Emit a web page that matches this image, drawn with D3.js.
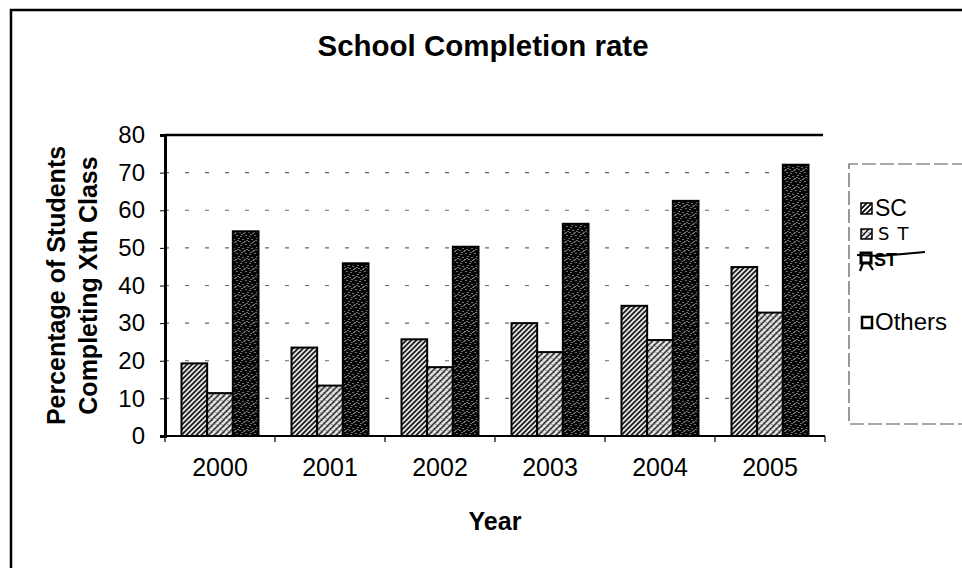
<!DOCTYPE html>
<html>
<head>
<meta charset="utf-8">
<script src="https://cdn.jsdelivr.net/npm/d3@7/dist/d3.min.js"></script>
<style>
  html, body { margin: 0; padding: 0; background: #fff; }
  svg { display: block; font-family: "Liberation Sans", Arial, sans-serif; }
</style>
</head>
<body>
<svg id="chart" width="962" height="568"></svg>
<script>
// School completion rate by year and social group
const years = ["2000", "2001", "2002", "2003", "2004", "2005"];
const seriesNames = ["SC", "ST", "Others"];
const scValues = [19.3, 23.5, 25.7, 30.0, 34.6, 44.9];
const stValues = [11.4, 13.4, 18.3, 22.3, 25.5, 32.8];
const othersValues = [54.4, 45.9, 50.3, 56.4, 62.5, 72.1];
const yTicks = [0, 10, 20, 30, 40, 50, 60, 70, 80];

const seriesValues = { SC: scValues, ST: stValues, Others: othersValues };

const svg = d3.select("#chart");
const plot = { left: 165, right: 825, top: 135, bottom: 436 };

// ---- fill patterns ----
const defs = svg.append("defs");

// SC: dense forward-slash hatching
const pSC = defs.append("pattern").attr("id", "pat-sc")
  .attr("patternUnits", "userSpaceOnUse").attr("width", 5).attr("height", 5);
pSC.append("rect").attr("width", 5).attr("height", 5).attr("fill", "#fff");
pSC.append("path").attr("d", "M-1,1 L1,-1 M0,5 L5,0 M4,6 L6,4")
  .attr("stroke", "#000").attr("stroke-width", 1.7);

// ST: lighter cross-hatch
const pST = defs.append("pattern").attr("id", "pat-st")
  .attr("patternUnits", "userSpaceOnUse").attr("width", 6).attr("height", 6);
pST.append("rect").attr("width", 6).attr("height", 6).attr("fill", "#e6e6e6");
pST.append("path").attr("d", "M-1,1 L1,-1 M0,6 L6,0 M5,7 L7,5")
  .attr("stroke", "#111").attr("stroke-width", 1.3);
pST.append("path").attr("d", "M0,0 L6,6 M-1,5 L1,7 M5,-1 L7,1")
  .attr("stroke", "#333").attr("stroke-width", 0.8).attr("stroke-dasharray", "1.5,1.5");

// Others: dark stipple
const pOT = defs.append("pattern").attr("id", "pat-ot")
  .attr("patternUnits", "userSpaceOnUse").attr("width", 9).attr("height", 9);
pOT.append("rect").attr("width", 9).attr("height", 9).attr("fill", "#050505");
[[1,1],[5,2],[3,4],[7,5],[0,7],[4,7],[8,8],[6,0],[2,6]].forEach(([px, py]) => {
  pOT.append("rect").attr("x", px).attr("y", py).attr("width", 1).attr("height", 1)
    .attr("fill", "#d8d8d8");
});

const fills = { SC: "url(#pat-sc)", ST: "url(#pat-st)", Others: "url(#pat-ot)" };

// ---- outer frame ----
svg.append("path").attr("d", "M11,568 L11,10 L962,10")
  .attr("fill", "none").attr("stroke", "#000").attr("stroke-width", 2.5);

// ---- title ----
svg.append("text").attr("x", 483).attr("y", 56).attr("text-anchor", "middle")
  .attr("font-size", 29.5).attr("font-weight", "bold").text("School Completion rate");

// ---- scales ----
const x0 = d3.scaleBand().domain(years).range([plot.left, plot.right])
  .paddingInner(0.3).paddingOuter(0.15);
const x1 = d3.scaleBand().domain(seriesNames).range([0, x0.bandwidth()]);
const y = d3.scaleLinear().domain([0, 80]).range([plot.bottom, plot.top]);

// ---- gridlines ----
svg.append("g").selectAll("line").data(yTicks.filter(t => t > 0 && t < 80)).join("line")
  .attr("x1", plot.left).attr("x2", plot.right)
  .attr("y1", d => y(d)).attr("y2", d => y(d))
  .attr("stroke", "#666").attr("stroke-width", 1.2).attr("stroke-dasharray", "4,16");

// plot top border
svg.append("line").attr("x1", plot.left).attr("x2", plot.right - 2)
  .attr("y1", plot.top).attr("y2", plot.top)
  .attr("stroke", "#000").attr("stroke-width", 2.5);

// ---- bars ----
const groups = svg.append("g").selectAll("g").data(years).join("g")
  .attr("transform", d => `translate(${x0(d)},0)`);
groups.selectAll("rect")
  .data((yr, i) => seriesNames.map(s => ({ s, v: seriesValues[s][i] })))
  .join("rect")
  .attr("x", d => x1(d.s))
  .attr("y", d => y(d.v))
  .attr("width", x1.bandwidth())
  .attr("height", d => plot.bottom - y(d.v))
  .attr("fill", d => fills[d.s])
  .attr("stroke", "#000").attr("stroke-width", 2);

// ---- y axis ----
const yAxis = svg.append("g").attr("transform", `translate(${plot.left},0)`)
  .call(d3.axisLeft(y).tickValues(yTicks).tickSize(5).tickPadding(15));
yAxis.select(".domain").attr("stroke-width", 3);
yAxis.selectAll("text").attr("font-size", 24).attr("fill", "#000")
  .attr("font-family", "Liberation Sans, Arial, sans-serif");

// ---- x axis ----
svg.append("line").attr("x1", plot.left).attr("x2", plot.right)
  .attr("y1", plot.bottom).attr("y2", plot.bottom)
  .attr("stroke", "#000").attr("stroke-width", 2);
const boundaries = d3.range(years.length + 1).map(i => plot.left + i * x0.step());
svg.append("g").selectAll("line").data(boundaries).join("line")
  .attr("x1", d => d).attr("x2", d => d)
  .attr("y1", plot.bottom).attr("y2", plot.bottom + 6)
  .attr("stroke", "#000").attr("stroke-width", 1.2);
svg.append("g").selectAll("text").data(years).join("text")
  .attr("x", d => x0(d) + x0.bandwidth() / 2).attr("y", 476)
  .attr("text-anchor", "middle").attr("font-size", 25).text(d => d);

// ---- axis titles ----
svg.append("text").attr("x", (plot.left + plot.right) / 2).attr("y", 530).attr("text-anchor", "middle")
  .attr("font-size", 25).attr("font-weight", "bold").text("Year");
const yTitle = svg.append("text")
  .attr("transform", `translate(0,${(plot.top + plot.bottom) / 2}) rotate(-90)`)
  .attr("text-anchor", "middle").attr("font-size", 25).attr("font-weight", "bold");
yTitle.append("tspan").attr("x", 0).attr("y", 65).text("Percentage of Students");
yTitle.append("tspan").attr("x", 0).attr("y", 97).text("Completing Xth Class");

// ---- legend ----
const lg = svg.append("g");
lg.append("path").attr("d", "M966,164 L849,164 L849,424 L966,424")
  .attr("fill", "none").attr("stroke", "#555").attr("stroke-width", 1.2)
  .attr("stroke-dasharray", "14,4");

// SC
lg.append("rect").attr("x", 861).attr("y", 203).attr("width", 11).attr("height", 11)
  .attr("fill", fills.SC).attr("stroke", "#000").attr("stroke-width", 1.5);
lg.append("text").attr("x", 875).attr("y", 216).attr("font-size", 23).text("SC");

// ST (hand-written label)
lg.append("rect").attr("x", 861).attr("y", 229).attr("width", 11).attr("height", 10)
  .attr("fill", fills.ST).attr("stroke", "#000").attr("stroke-width", 1.5);
lg.append("text").attr("x", 878).attr("y", 240).attr("font-size", 18)
  .attr("font-family", "DejaVu Sans, sans-serif").attr("font-weight", "normal")
  .attr("fill", "#000").attr("letter-spacing", 8).text("ST");

// struck-out entry
lg.append("rect").attr("x", 861).attr("y", 253).attr("width", 10).attr("height", 10)
  .attr("fill", "#fff").attr("stroke", "#000").attr("stroke-width", 3);
lg.append("path").attr("d", "M863,263 L860,271 M868,262 L873,270")
  .attr("stroke", "#000").attr("stroke-width", 2.2).attr("fill", "none");
lg.append("text").attr("x", 874).attr("y", 266).attr("font-size", 18)
  .attr("font-weight", "bold").text("ST");
lg.append("path").attr("d", "M857,255 L880,256 L925,252")
  .attr("stroke", "#000").attr("stroke-width", 2.2).attr("fill", "none");

// Others
lg.append("rect").attr("x", 862).attr("y", 317).attr("width", 10).attr("height", 11)
  .attr("fill", "#fff").attr("stroke", "#000").attr("stroke-width", 2.5);
lg.append("text").attr("x", 875).attr("y", 330).attr("font-size", 24).text("Others");
</script>
</body>
</html>
